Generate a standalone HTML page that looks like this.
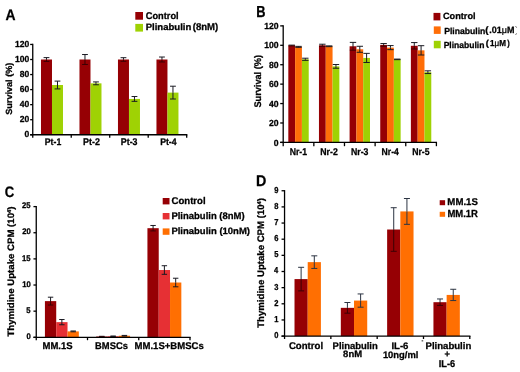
<!DOCTYPE html>
<html><head><meta charset="utf-8"><style>html,body{margin:0;padding:0;background:#fff;width:520px;height:372px;overflow:hidden}svg{display:block;font-family:"Liberation Sans",sans-serif;text-rendering:geometricPrecision;filter:blur(0.35px)}text{stroke:#000;stroke-width:0.28px;stroke-linejoin:round}</style></head><body>
<svg width="520" height="372" viewBox="0 0 520 372" font-family="Liberation Sans, sans-serif">
<rect width="520" height="372" fill="#fff"/>
<rect x="40.99" y="59.5" width="11" height="75.25" fill="#960004"/>
<rect x="51.99" y="85.01" width="11" height="49.74" fill="#9fd204"/>
<line x1="46.49" y1="57.62" x2="46.49" y2="59.5" stroke="#1a1a22" stroke-width="1"/>
<line x1="46.49" y1="59.5" x2="46.49" y2="61.38" stroke="#3c0004" stroke-width="1"/>
<line x1="43.59" y1="57.62" x2="49.39" y2="57.62" stroke="#1a1a22" stroke-width="1"/>
<line x1="43.59" y1="61.38" x2="49.39" y2="61.38" stroke="#3c0004" stroke-width="1"/>
<line x1="57.49" y1="81.1" x2="57.49" y2="85.01" stroke="#1a1a22" stroke-width="1"/>
<line x1="57.49" y1="85.01" x2="57.49" y2="88.92" stroke="#1a1a22" stroke-width="1"/>
<line x1="54.59" y1="81.1" x2="60.39" y2="81.1" stroke="#1a1a22" stroke-width="1"/>
<line x1="54.59" y1="88.92" x2="60.39" y2="88.92" stroke="#1a1a22" stroke-width="1"/>
<rect x="79.48" y="59.5" width="11" height="75.25" fill="#960004"/>
<rect x="90.48" y="83.35" width="11" height="51.4" fill="#9fd204"/>
<line x1="84.98" y1="54.53" x2="84.98" y2="59.5" stroke="#1a1a22" stroke-width="1"/>
<line x1="84.98" y1="59.5" x2="84.98" y2="64.47" stroke="#3c0004" stroke-width="1"/>
<line x1="82.08" y1="54.53" x2="87.88" y2="54.53" stroke="#1a1a22" stroke-width="1"/>
<line x1="82.08" y1="64.47" x2="87.88" y2="64.47" stroke="#3c0004" stroke-width="1"/>
<line x1="95.98" y1="81.92" x2="95.98" y2="83.35" stroke="#1a1a22" stroke-width="1"/>
<line x1="95.98" y1="83.35" x2="95.98" y2="84.78" stroke="#1a1a22" stroke-width="1"/>
<line x1="93.08" y1="81.92" x2="98.88" y2="81.92" stroke="#1a1a22" stroke-width="1"/>
<line x1="93.08" y1="84.78" x2="98.88" y2="84.78" stroke="#1a1a22" stroke-width="1"/>
<rect x="117.97" y="59.5" width="11" height="75.25" fill="#960004"/>
<rect x="128.97" y="98.93" width="11" height="35.82" fill="#9fd204"/>
<line x1="123.47" y1="57.69" x2="123.47" y2="59.5" stroke="#1a1a22" stroke-width="1"/>
<line x1="123.47" y1="59.5" x2="123.47" y2="61.31" stroke="#3c0004" stroke-width="1"/>
<line x1="120.57" y1="57.69" x2="126.37" y2="57.69" stroke="#1a1a22" stroke-width="1"/>
<line x1="120.57" y1="61.31" x2="126.37" y2="61.31" stroke="#3c0004" stroke-width="1"/>
<line x1="134.47" y1="96.52" x2="134.47" y2="98.93" stroke="#1a1a22" stroke-width="1"/>
<line x1="134.47" y1="98.93" x2="134.47" y2="101.34" stroke="#1a1a22" stroke-width="1"/>
<line x1="131.57" y1="96.52" x2="137.37" y2="96.52" stroke="#1a1a22" stroke-width="1"/>
<line x1="131.57" y1="101.34" x2="137.37" y2="101.34" stroke="#1a1a22" stroke-width="1"/>
<rect x="156.46" y="59.5" width="11" height="75.25" fill="#960004"/>
<rect x="167.46" y="92.61" width="11" height="42.14" fill="#9fd204"/>
<line x1="161.96" y1="57.02" x2="161.96" y2="59.5" stroke="#1a1a22" stroke-width="1"/>
<line x1="161.96" y1="59.5" x2="161.96" y2="61.98" stroke="#3c0004" stroke-width="1"/>
<line x1="159.06" y1="57.02" x2="164.86" y2="57.02" stroke="#1a1a22" stroke-width="1"/>
<line x1="159.06" y1="61.98" x2="164.86" y2="61.98" stroke="#3c0004" stroke-width="1"/>
<line x1="172.96" y1="86.21" x2="172.96" y2="92.61" stroke="#1a1a22" stroke-width="1"/>
<line x1="172.96" y1="92.61" x2="172.96" y2="99.01" stroke="#1a1a22" stroke-width="1"/>
<line x1="170.06" y1="86.21" x2="175.86" y2="86.21" stroke="#1a1a22" stroke-width="1"/>
<line x1="170.06" y1="99.01" x2="175.86" y2="99.01" stroke="#1a1a22" stroke-width="1"/>
<line x1="32.75" y1="43.8" x2="32.75" y2="137.65" stroke="#000" stroke-width="1.3"/>
<line x1="30.15" y1="134.75" x2="187.35" y2="134.75" stroke="#000" stroke-width="1.3"/>
<line x1="30.15" y1="134.75" x2="32.75" y2="134.75" stroke="#000" stroke-width="1.3"/>
<text transform="translate(24.5 137.43) scale(0.970 1)" font-size="8.8" font-weight="bold">0</text>
<line x1="30.15" y1="119.7" x2="32.75" y2="119.7" stroke="#000" stroke-width="1.3"/>
<text transform="translate(19.77 122.38) scale(0.970 1)" font-size="8.8" font-weight="bold">20</text>
<line x1="30.15" y1="104.65" x2="32.75" y2="104.65" stroke="#000" stroke-width="1.3"/>
<text transform="translate(19.77 107.33) scale(0.970 1)" font-size="8.8" font-weight="bold">40</text>
<line x1="30.15" y1="89.6" x2="32.75" y2="89.6" stroke="#000" stroke-width="1.3"/>
<text transform="translate(19.77 92.28) scale(0.970 1)" font-size="8.8" font-weight="bold">60</text>
<line x1="30.15" y1="74.55" x2="32.75" y2="74.55" stroke="#000" stroke-width="1.3"/>
<text transform="translate(19.77 77.23) scale(0.970 1)" font-size="8.8" font-weight="bold">80</text>
<line x1="30.15" y1="59.5" x2="32.75" y2="59.5" stroke="#000" stroke-width="1.3"/>
<text transform="translate(15.03 62.18) scale(0.970 1)" font-size="8.8" font-weight="bold">100</text>
<line x1="30.15" y1="44.45" x2="32.75" y2="44.45" stroke="#000" stroke-width="1.3"/>
<text transform="translate(15.03 47.13) scale(0.970 1)" font-size="8.8" font-weight="bold">120</text>
<line x1="71.24" y1="134.75" x2="71.24" y2="137.65" stroke="#000" stroke-width="1.3"/>
<line x1="109.72" y1="134.75" x2="109.72" y2="137.65" stroke="#000" stroke-width="1.3"/>
<line x1="148.21" y1="134.75" x2="148.21" y2="137.65" stroke="#000" stroke-width="1.3"/>
<line x1="186.7" y1="134.75" x2="186.7" y2="137.65" stroke="#000" stroke-width="1.3"/>
<text transform="translate(5.45 19.7) scale(0.9122 1)" font-size="15.22" font-weight="bold">A</text>
<text transform="translate(44.84 145) scale(0.9061 1)" font-size="9.57" font-weight="bold">Pt-1</text>
<text transform="translate(83.12 145) scale(0.9227 1)" font-size="9.71" font-weight="bold">Pt-2</text>
<text transform="translate(120.83 145) scale(0.9086 1)" font-size="9.71" font-weight="bold">Pt-3</text>
<text transform="translate(160.13 145) scale(0.9065 1)" font-size="9.64" font-weight="bold">Pt-4</text>
<text transform="translate(11.9 114.77) rotate(-90) scale(1.0212 1)" font-size="8.92" font-weight="bold">Survival (%)</text>
<rect x="135.3" y="12" width="7.7" height="7.7" fill="#960004"/>
<rect x="135.3" y="23.9" width="7.7" height="7.7" fill="#9fd204"/>
<text transform="translate(145.73 18.6) scale(0.9574 1)" font-size="9.66" font-weight="bold">Control</text>
<text transform="translate(145.68 29.8) scale(1.0413 1)" font-size="9.19" font-weight="bold">Plinabulin</text>
<text transform="translate(192.72 30.23) scale(0.9728 1)" font-size="9.84" font-weight="bold">(8nM)</text>
<rect x="288.32" y="45.49" width="6.8" height="96.91" fill="#960004"/>
<rect x="295.12" y="46.85" width="6.8" height="95.55" fill="#ff6e08"/>
<rect x="301.92" y="59.28" width="6.8" height="83.12" fill="#9fd204"/>
<line x1="291.72" y1="45.11" x2="291.72" y2="45.49" stroke="#1a1a22" stroke-width="1"/>
<line x1="291.72" y1="45.49" x2="291.72" y2="45.88" stroke="#3c0004" stroke-width="1"/>
<line x1="288.52" y1="45.11" x2="294.92" y2="45.11" stroke="#1a1a22" stroke-width="1"/>
<line x1="288.52" y1="45.88" x2="294.92" y2="45.88" stroke="#3c0004" stroke-width="1"/>
<line x1="298.52" y1="46.37" x2="298.52" y2="46.85" stroke="#1a1a22" stroke-width="1"/>
<line x1="298.52" y1="46.85" x2="298.52" y2="47.34" stroke="#1a1a22" stroke-width="1"/>
<line x1="295.32" y1="46.37" x2="301.72" y2="46.37" stroke="#1a1a22" stroke-width="1"/>
<line x1="295.32" y1="47.34" x2="301.72" y2="47.34" stroke="#1a1a22" stroke-width="1"/>
<line x1="305.32" y1="58.21" x2="305.32" y2="59.28" stroke="#1a1a22" stroke-width="1"/>
<line x1="305.32" y1="59.28" x2="305.32" y2="60.35" stroke="#1a1a22" stroke-width="1"/>
<line x1="302.12" y1="58.21" x2="308.52" y2="58.21" stroke="#1a1a22" stroke-width="1"/>
<line x1="302.12" y1="60.35" x2="308.52" y2="60.35" stroke="#1a1a22" stroke-width="1"/>
<rect x="318.96" y="45.3" width="6.8" height="97.1" fill="#960004"/>
<rect x="325.76" y="46.27" width="6.8" height="96.13" fill="#ff6e08"/>
<rect x="332.56" y="66.37" width="6.8" height="76.03" fill="#9fd204"/>
<line x1="322.36" y1="44.23" x2="322.36" y2="45.3" stroke="#1a1a22" stroke-width="1"/>
<line x1="322.36" y1="45.3" x2="322.36" y2="46.37" stroke="#3c0004" stroke-width="1"/>
<line x1="319.16" y1="44.23" x2="325.56" y2="44.23" stroke="#1a1a22" stroke-width="1"/>
<line x1="319.16" y1="46.37" x2="325.56" y2="46.37" stroke="#3c0004" stroke-width="1"/>
<line x1="329.16" y1="45.88" x2="329.16" y2="46.27" stroke="#1a1a22" stroke-width="1"/>
<line x1="329.16" y1="46.27" x2="329.16" y2="46.66" stroke="#1a1a22" stroke-width="1"/>
<line x1="325.96" y1="45.88" x2="332.36" y2="45.88" stroke="#1a1a22" stroke-width="1"/>
<line x1="325.96" y1="46.66" x2="332.36" y2="46.66" stroke="#1a1a22" stroke-width="1"/>
<line x1="335.96" y1="64.53" x2="335.96" y2="66.37" stroke="#1a1a22" stroke-width="1"/>
<line x1="335.96" y1="66.37" x2="335.96" y2="68.22" stroke="#1a1a22" stroke-width="1"/>
<line x1="332.76" y1="64.53" x2="339.16" y2="64.53" stroke="#1a1a22" stroke-width="1"/>
<line x1="332.76" y1="68.22" x2="339.16" y2="68.22" stroke="#1a1a22" stroke-width="1"/>
<rect x="349.6" y="46.27" width="6.8" height="96.13" fill="#960004"/>
<rect x="356.4" y="49.28" width="6.8" height="93.12" fill="#ff6e08"/>
<rect x="363.2" y="57.92" width="6.8" height="84.48" fill="#9fd204"/>
<line x1="353" y1="42.39" x2="353" y2="46.27" stroke="#1a1a22" stroke-width="1"/>
<line x1="353" y1="46.27" x2="353" y2="50.16" stroke="#3c0004" stroke-width="1"/>
<line x1="349.8" y1="42.39" x2="356.2" y2="42.39" stroke="#1a1a22" stroke-width="1"/>
<line x1="349.8" y1="50.16" x2="356.2" y2="50.16" stroke="#3c0004" stroke-width="1"/>
<line x1="359.8" y1="46.27" x2="359.8" y2="49.28" stroke="#1a1a22" stroke-width="1"/>
<line x1="359.8" y1="49.28" x2="359.8" y2="52.29" stroke="#1a1a22" stroke-width="1"/>
<line x1="356.6" y1="46.27" x2="363" y2="46.27" stroke="#1a1a22" stroke-width="1"/>
<line x1="356.6" y1="52.29" x2="363" y2="52.29" stroke="#1a1a22" stroke-width="1"/>
<line x1="366.6" y1="53.36" x2="366.6" y2="57.92" stroke="#1a1a22" stroke-width="1"/>
<line x1="366.6" y1="57.92" x2="366.6" y2="62.49" stroke="#1a1a22" stroke-width="1"/>
<line x1="363.4" y1="53.36" x2="369.8" y2="53.36" stroke="#1a1a22" stroke-width="1"/>
<line x1="363.4" y1="62.49" x2="369.8" y2="62.49" stroke="#1a1a22" stroke-width="1"/>
<rect x="380.24" y="44.91" width="6.8" height="97.49" fill="#960004"/>
<rect x="387.04" y="47.63" width="6.8" height="94.77" fill="#ff6e08"/>
<rect x="393.84" y="59.38" width="6.8" height="83.02" fill="#9fd204"/>
<line x1="383.64" y1="43.55" x2="383.64" y2="44.91" stroke="#1a1a22" stroke-width="1"/>
<line x1="383.64" y1="44.91" x2="383.64" y2="46.27" stroke="#3c0004" stroke-width="1"/>
<line x1="380.44" y1="43.55" x2="386.84" y2="43.55" stroke="#1a1a22" stroke-width="1"/>
<line x1="380.44" y1="46.27" x2="386.84" y2="46.27" stroke="#3c0004" stroke-width="1"/>
<line x1="390.44" y1="45.59" x2="390.44" y2="47.63" stroke="#1a1a22" stroke-width="1"/>
<line x1="390.44" y1="47.63" x2="390.44" y2="49.67" stroke="#1a1a22" stroke-width="1"/>
<line x1="387.24" y1="45.59" x2="393.64" y2="45.59" stroke="#1a1a22" stroke-width="1"/>
<line x1="387.24" y1="49.67" x2="393.64" y2="49.67" stroke="#1a1a22" stroke-width="1"/>
<line x1="397.24" y1="59.09" x2="397.24" y2="59.38" stroke="#1a1a22" stroke-width="1"/>
<line x1="397.24" y1="59.38" x2="397.24" y2="59.67" stroke="#1a1a22" stroke-width="1"/>
<line x1="394.04" y1="59.09" x2="400.44" y2="59.09" stroke="#1a1a22" stroke-width="1"/>
<line x1="394.04" y1="59.67" x2="400.44" y2="59.67" stroke="#1a1a22" stroke-width="1"/>
<rect x="410.88" y="45.79" width="6.8" height="96.61" fill="#960004"/>
<rect x="417.68" y="50.35" width="6.8" height="92.05" fill="#ff6e08"/>
<rect x="424.48" y="72.2" width="6.8" height="70.2" fill="#9fd204"/>
<line x1="414.28" y1="42.58" x2="414.28" y2="45.79" stroke="#1a1a22" stroke-width="1"/>
<line x1="414.28" y1="45.79" x2="414.28" y2="48.99" stroke="#3c0004" stroke-width="1"/>
<line x1="411.08" y1="42.58" x2="417.48" y2="42.58" stroke="#1a1a22" stroke-width="1"/>
<line x1="411.08" y1="48.99" x2="417.48" y2="48.99" stroke="#3c0004" stroke-width="1"/>
<line x1="421.08" y1="45.69" x2="421.08" y2="50.35" stroke="#1a1a22" stroke-width="1"/>
<line x1="421.08" y1="50.35" x2="421.08" y2="55.01" stroke="#1a1a22" stroke-width="1"/>
<line x1="417.88" y1="45.69" x2="424.28" y2="45.69" stroke="#1a1a22" stroke-width="1"/>
<line x1="417.88" y1="55.01" x2="424.28" y2="55.01" stroke="#1a1a22" stroke-width="1"/>
<line x1="427.88" y1="70.84" x2="427.88" y2="72.2" stroke="#1a1a22" stroke-width="1"/>
<line x1="427.88" y1="72.2" x2="427.88" y2="73.56" stroke="#1a1a22" stroke-width="1"/>
<line x1="424.68" y1="70.84" x2="431.08" y2="70.84" stroke="#1a1a22" stroke-width="1"/>
<line x1="424.68" y1="73.56" x2="431.08" y2="73.56" stroke="#1a1a22" stroke-width="1"/>
<line x1="283.2" y1="25.23" x2="283.2" y2="146.2" stroke="#000" stroke-width="1.3"/>
<line x1="280.2" y1="142.4" x2="437.05" y2="142.4" stroke="#000" stroke-width="1.3"/>
<line x1="280.2" y1="142.4" x2="283.2" y2="142.4" stroke="#000" stroke-width="1.3"/>
<text transform="translate(273.85 145.52) scale(0.970 1)" font-size="8.9" font-weight="bold">0</text>
<line x1="280.2" y1="122.98" x2="283.2" y2="122.98" stroke="#000" stroke-width="1.3"/>
<text transform="translate(269.06 126.09) scale(0.970 1)" font-size="8.9" font-weight="bold">20</text>
<line x1="280.2" y1="103.56" x2="283.2" y2="103.56" stroke="#000" stroke-width="1.3"/>
<text transform="translate(269.06 106.67) scale(0.970 1)" font-size="8.9" font-weight="bold">40</text>
<line x1="280.2" y1="84.14" x2="283.2" y2="84.14" stroke="#000" stroke-width="1.3"/>
<text transform="translate(269.06 87.26) scale(0.970 1)" font-size="8.9" font-weight="bold">60</text>
<line x1="280.2" y1="64.72" x2="283.2" y2="64.72" stroke="#000" stroke-width="1.3"/>
<text transform="translate(269.06 67.84) scale(0.970 1)" font-size="8.9" font-weight="bold">80</text>
<line x1="280.2" y1="45.3" x2="283.2" y2="45.3" stroke="#000" stroke-width="1.3"/>
<text transform="translate(264.27 48.42) scale(0.970 1)" font-size="8.9" font-weight="bold">100</text>
<line x1="280.2" y1="25.88" x2="283.2" y2="25.88" stroke="#000" stroke-width="1.3"/>
<text transform="translate(264.27 29) scale(0.970 1)" font-size="8.9" font-weight="bold">120</text>
<line x1="313.84" y1="142.4" x2="313.84" y2="146.2" stroke="#000" stroke-width="1.3"/>
<line x1="344.48" y1="142.4" x2="344.48" y2="146.2" stroke="#000" stroke-width="1.3"/>
<line x1="375.12" y1="142.4" x2="375.12" y2="146.2" stroke="#000" stroke-width="1.3"/>
<line x1="405.76" y1="142.4" x2="405.76" y2="146.2" stroke="#000" stroke-width="1.3"/>
<line x1="436.4" y1="142.4" x2="436.4" y2="146.2" stroke="#000" stroke-width="1.3"/>
<text transform="translate(256.27 17.4) scale(0.8021 1)" font-size="15.94" font-weight="bold">B</text>
<text transform="translate(289.66 154.7) scale(0.8819 1)" font-size="9.86" font-weight="bold">Nr-1</text>
<text transform="translate(320.29 154.7) scale(0.9018 1)" font-size="9.71" font-weight="bold">Nr-2</text>
<text transform="translate(350.93 154.7) scale(0.8994 1)" font-size="9.71" font-weight="bold">Nr-3</text>
<text transform="translate(381.58 154.7) scale(0.8728 1)" font-size="9.86" font-weight="bold">Nr-4</text>
<text transform="translate(412.22 154.7) scale(0.8819 1)" font-size="9.86" font-weight="bold">Nr-5</text>
<text transform="translate(261.1 107.58) rotate(-90) scale(0.9575 1)" font-size="9.6" font-weight="bold">Survival (%)</text>
<rect x="433.5" y="12.9" width="6.9" height="7.5" fill="#960004"/>
<rect x="433.8" y="26.4" width="6.9" height="7.5" fill="#ff6e08"/>
<rect x="433.8" y="40.8" width="6.9" height="7.5" fill="#9fd204"/>
<text transform="translate(442.93 18.8) scale(1.0091 1)" font-size="9.1" font-weight="bold">Control</text>
<text transform="translate(444.14 33.6) scale(0.9847 1)" font-size="8.78" font-weight="bold">Plinabulin</text>
<text transform="translate(443.65 47.8) scale(0.9725 1)" font-size="8.78" font-weight="bold">Plinabulin</text>
<text transform="translate(485.32 32.67) scale(1.0484 1)" font-size="9.2" font-weight="bold">(</text>
<text transform="translate(489.37 32.9) scale(0.9741 1)" font-size="9.22" font-weight="bold">.01<tspan font-weight="normal">μ</tspan>M</text>
<path d="M515.6 26.2 L516.6 27.6 M516.5 33.4 L515.7 34.8" stroke="#444" stroke-width="0.9" fill="none"/>
<text transform="translate(485.74 45.78) scale(1.0719 1)" font-size="8.66" font-weight="bold">(</text>
<text transform="translate(489.97 46) scale(0.9387 1)" font-size="8.66" font-weight="bold">1<tspan font-weight="normal">μ</tspan>M</text>
<text transform="translate(507.16 45.78) scale(0.8657 1)" font-size="8.66" font-weight="bold">)</text>
<rect x="44.92" y="301.12" width="11.3" height="36.18" fill="#960004"/>
<rect x="56.22" y="322.14" width="11.3" height="15.16" fill="#e63034"/>
<rect x="67.53" y="331.39" width="11.3" height="5.91" fill="#ff6f02"/>
<line x1="50.57" y1="297.2" x2="50.57" y2="301.12" stroke="#1a1a22" stroke-width="1"/>
<line x1="50.57" y1="301.12" x2="50.57" y2="305.04" stroke="#3c0004" stroke-width="1"/>
<line x1="47.87" y1="297.2" x2="53.27" y2="297.2" stroke="#1a1a22" stroke-width="1"/>
<line x1="47.87" y1="305.04" x2="53.27" y2="305.04" stroke="#3c0004" stroke-width="1"/>
<line x1="61.87" y1="319.52" x2="61.87" y2="322.14" stroke="#1a1a22" stroke-width="1"/>
<line x1="61.87" y1="322.14" x2="61.87" y2="324.75" stroke="#1a1a22" stroke-width="1"/>
<line x1="59.17" y1="319.52" x2="64.57" y2="319.52" stroke="#1a1a22" stroke-width="1"/>
<line x1="59.17" y1="324.75" x2="64.57" y2="324.75" stroke="#1a1a22" stroke-width="1"/>
<line x1="73.18" y1="330.97" x2="73.18" y2="331.39" stroke="#1a1a22" stroke-width="1"/>
<line x1="73.18" y1="331.39" x2="73.18" y2="331.81" stroke="#1a1a22" stroke-width="1"/>
<line x1="70.48" y1="330.97" x2="75.88" y2="330.97" stroke="#1a1a22" stroke-width="1"/>
<line x1="70.48" y1="331.81" x2="75.88" y2="331.81" stroke="#1a1a22" stroke-width="1"/>
<rect x="96.17" y="336.52" width="11.3" height="0.78" fill="#960004"/>
<rect x="107.47" y="336.25" width="11.3" height="1.05" fill="#e63034"/>
<rect x="118.78" y="335.73" width="11.3" height="1.57" fill="#ff6f02"/>
<line x1="101.83" y1="336.31" x2="101.83" y2="336.52" stroke="#1a1a22" stroke-width="1"/>
<line x1="101.83" y1="336.52" x2="101.83" y2="336.72" stroke="#3c0004" stroke-width="1"/>
<line x1="99.12" y1="336.31" x2="104.53" y2="336.31" stroke="#1a1a22" stroke-width="1"/>
<line x1="99.12" y1="336.72" x2="104.53" y2="336.72" stroke="#3c0004" stroke-width="1"/>
<line x1="113.12" y1="335.99" x2="113.12" y2="336.25" stroke="#1a1a22" stroke-width="1"/>
<line x1="113.12" y1="336.25" x2="113.12" y2="336.52" stroke="#1a1a22" stroke-width="1"/>
<line x1="110.42" y1="335.99" x2="115.83" y2="335.99" stroke="#1a1a22" stroke-width="1"/>
<line x1="110.42" y1="336.52" x2="115.83" y2="336.52" stroke="#1a1a22" stroke-width="1"/>
<line x1="124.43" y1="335.42" x2="124.43" y2="335.73" stroke="#1a1a22" stroke-width="1"/>
<line x1="124.43" y1="335.73" x2="124.43" y2="336.05" stroke="#1a1a22" stroke-width="1"/>
<line x1="121.73" y1="335.42" x2="127.13" y2="335.42" stroke="#1a1a22" stroke-width="1"/>
<line x1="121.73" y1="336.05" x2="127.13" y2="336.05" stroke="#1a1a22" stroke-width="1"/>
<rect x="147.43" y="228.19" width="11.3" height="109.11" fill="#960004"/>
<rect x="158.73" y="270.02" width="11.3" height="67.28" fill="#e63034"/>
<rect x="170.03" y="282.51" width="11.3" height="54.79" fill="#ff6f02"/>
<line x1="153.08" y1="225.47" x2="153.08" y2="228.19" stroke="#1a1a22" stroke-width="1"/>
<line x1="153.08" y1="228.19" x2="153.08" y2="230.91" stroke="#3c0004" stroke-width="1"/>
<line x1="150.38" y1="225.47" x2="155.78" y2="225.47" stroke="#1a1a22" stroke-width="1"/>
<line x1="150.38" y1="230.91" x2="155.78" y2="230.91" stroke="#3c0004" stroke-width="1"/>
<line x1="164.38" y1="265.73" x2="164.38" y2="270.02" stroke="#1a1a22" stroke-width="1"/>
<line x1="164.38" y1="270.02" x2="164.38" y2="274.3" stroke="#1a1a22" stroke-width="1"/>
<line x1="161.68" y1="265.73" x2="167.08" y2="265.73" stroke="#1a1a22" stroke-width="1"/>
<line x1="161.68" y1="274.3" x2="167.08" y2="274.3" stroke="#1a1a22" stroke-width="1"/>
<line x1="175.68" y1="278.22" x2="175.68" y2="282.51" stroke="#1a1a22" stroke-width="1"/>
<line x1="175.68" y1="282.51" x2="175.68" y2="286.8" stroke="#1a1a22" stroke-width="1"/>
<line x1="172.98" y1="278.22" x2="178.38" y2="278.22" stroke="#1a1a22" stroke-width="1"/>
<line x1="172.98" y1="286.8" x2="178.38" y2="286.8" stroke="#1a1a22" stroke-width="1"/>
<line x1="36.25" y1="205.95" x2="36.25" y2="340.2" stroke="#000" stroke-width="1.3"/>
<line x1="33.45" y1="337.3" x2="190.65" y2="337.3" stroke="#000" stroke-width="1.3"/>
<line x1="33.45" y1="337.3" x2="36.25" y2="337.3" stroke="#000" stroke-width="1.3"/>
<text transform="translate(26.43 338.97) scale(0.940 1)" font-size="8.2" font-weight="bold">0</text>
<line x1="33.45" y1="311.16" x2="36.25" y2="311.16" stroke="#000" stroke-width="1.3"/>
<text transform="translate(26.31 312.79) scale(0.940 1)" font-size="8.2" font-weight="bold">5</text>
<line x1="33.45" y1="285.02" x2="36.25" y2="285.02" stroke="#000" stroke-width="1.3"/>
<text transform="translate(22.15 286.69) scale(0.940 1)" font-size="8.2" font-weight="bold">10</text>
<line x1="33.45" y1="258.88" x2="36.25" y2="258.88" stroke="#000" stroke-width="1.3"/>
<text transform="translate(22.04 260.51) scale(0.940 1)" font-size="8.2" font-weight="bold">15</text>
<line x1="33.45" y1="232.74" x2="36.25" y2="232.74" stroke="#000" stroke-width="1.3"/>
<text transform="translate(22.15 234.41) scale(0.940 1)" font-size="8.2" font-weight="bold">20</text>
<line x1="33.45" y1="206.6" x2="36.25" y2="206.6" stroke="#000" stroke-width="1.3"/>
<text transform="translate(22.04 208.27) scale(0.940 1)" font-size="8.2" font-weight="bold">25</text>
<line x1="87.5" y1="337.3" x2="87.5" y2="340.2" stroke="#000" stroke-width="1.3"/>
<line x1="138.75" y1="337.3" x2="138.75" y2="340.2" stroke="#000" stroke-width="1.3"/>
<line x1="190" y1="337.3" x2="190" y2="340.2" stroke="#000" stroke-width="1.3"/>
<text transform="translate(4.77 196.6) scale(0.8671 1)" font-size="15.14" font-weight="bold">C</text>
<text transform="translate(42.48 349) scale(0.9774 1)" font-size="9.71" font-weight="bold">MM.1S</text>
<text transform="translate(95.09 349) scale(0.9642 1)" font-size="9.71" font-weight="bold">BMSCs</text>
<text transform="translate(134.58 349.1) scale(0.9826 1)" font-size="9.71" font-weight="bold">MM.1S+BMSCs</text>
<text transform="translate(14.4 336.6) rotate(-90) scale(1.036 1)" font-size="9.3" font-weight="bold" >Thymidine Uptake CPM (10<tspan font-size="5.6" dy="-3.6">4</tspan><tspan dy="3.6">)</tspan></text>
<rect x="162.7" y="198" width="6.8" height="6.4" fill="#960004"/>
<rect x="162.7" y="213" width="6.8" height="6.4" fill="#e63034"/>
<rect x="162.7" y="228.4" width="6.8" height="6.4" fill="#ff6f02"/>
<text transform="translate(171.62 204.4) scale(0.9766 1)" font-size="9.79" font-weight="bold">Control</text>
<text transform="translate(171.38 219.4) scale(0.9894 1)" font-size="9.6" font-weight="bold">Plinabulin (8nM)</text>
<text transform="translate(171.38 234.3) scale(1.0354 1)" font-size="9.19" font-weight="bold">Plinabulin (10nM)</text>
<rect x="294.51" y="279.09" width="13.2" height="57.01" fill="#960004"/>
<rect x="307.71" y="262.13" width="13.2" height="73.97" fill="#ff6f02"/>
<line x1="301.11" y1="267.3" x2="301.11" y2="279.09" stroke="#2c3442" stroke-width="1"/>
<line x1="301.11" y1="279.09" x2="301.11" y2="290.88" stroke="#3c0004" stroke-width="1"/>
<line x1="298.11" y1="267.3" x2="304.11" y2="267.3" stroke="#2c3442" stroke-width="1"/>
<line x1="298.11" y1="290.88" x2="304.11" y2="290.88" stroke="#3c0004" stroke-width="1"/>
<line x1="314.31" y1="255.83" x2="314.31" y2="262.13" stroke="#2c3442" stroke-width="1"/>
<line x1="314.31" y1="262.13" x2="314.31" y2="268.43" stroke="#2c3442" stroke-width="1"/>
<line x1="311.31" y1="255.83" x2="317.31" y2="255.83" stroke="#2c3442" stroke-width="1"/>
<line x1="311.31" y1="268.43" x2="317.31" y2="268.43" stroke="#2c3442" stroke-width="1"/>
<rect x="340.82" y="307.84" width="13.2" height="28.26" fill="#960004"/>
<rect x="354.02" y="300.57" width="13.2" height="35.53" fill="#ff6f02"/>
<line x1="347.42" y1="302.51" x2="347.42" y2="307.84" stroke="#2c3442" stroke-width="1"/>
<line x1="347.42" y1="307.84" x2="347.42" y2="313.17" stroke="#3c0004" stroke-width="1"/>
<line x1="344.42" y1="302.51" x2="350.42" y2="302.51" stroke="#2c3442" stroke-width="1"/>
<line x1="344.42" y1="313.17" x2="350.42" y2="313.17" stroke="#3c0004" stroke-width="1"/>
<line x1="360.62" y1="293.95" x2="360.62" y2="300.57" stroke="#2c3442" stroke-width="1"/>
<line x1="360.62" y1="300.57" x2="360.62" y2="307.19" stroke="#2c3442" stroke-width="1"/>
<line x1="357.62" y1="293.95" x2="363.62" y2="293.95" stroke="#2c3442" stroke-width="1"/>
<line x1="357.62" y1="307.19" x2="363.62" y2="307.19" stroke="#2c3442" stroke-width="1"/>
<rect x="387.13" y="229.51" width="13.2" height="106.59" fill="#960004"/>
<rect x="400.33" y="211.42" width="13.2" height="124.68" fill="#ff6f02"/>
<line x1="393.73" y1="207.71" x2="393.73" y2="229.51" stroke="#2c3442" stroke-width="1"/>
<line x1="393.73" y1="229.51" x2="393.73" y2="251.31" stroke="#3c0004" stroke-width="1"/>
<line x1="390.73" y1="207.71" x2="396.73" y2="207.71" stroke="#2c3442" stroke-width="1"/>
<line x1="390.73" y1="251.31" x2="396.73" y2="251.31" stroke="#3c0004" stroke-width="1"/>
<line x1="406.93" y1="198.5" x2="406.93" y2="211.42" stroke="#2c3442" stroke-width="1"/>
<line x1="406.93" y1="211.42" x2="406.93" y2="224.34" stroke="#2c3442" stroke-width="1"/>
<line x1="403.93" y1="198.5" x2="409.93" y2="198.5" stroke="#2c3442" stroke-width="1"/>
<line x1="403.93" y1="224.34" x2="409.93" y2="224.34" stroke="#2c3442" stroke-width="1"/>
<rect x="433.44" y="302.19" width="13.2" height="33.92" fill="#960004"/>
<rect x="446.64" y="294.92" width="13.2" height="41.18" fill="#ff6f02"/>
<line x1="440.04" y1="298.96" x2="440.04" y2="302.19" stroke="#2c3442" stroke-width="1"/>
<line x1="440.04" y1="302.19" x2="440.04" y2="305.42" stroke="#3c0004" stroke-width="1"/>
<line x1="437.04" y1="298.96" x2="443.04" y2="298.96" stroke="#2c3442" stroke-width="1"/>
<line x1="437.04" y1="305.42" x2="443.04" y2="305.42" stroke="#3c0004" stroke-width="1"/>
<line x1="453.24" y1="289.27" x2="453.24" y2="294.92" stroke="#2c3442" stroke-width="1"/>
<line x1="453.24" y1="294.92" x2="453.24" y2="300.57" stroke="#2c3442" stroke-width="1"/>
<line x1="450.24" y1="289.27" x2="456.24" y2="289.27" stroke="#2c3442" stroke-width="1"/>
<line x1="450.24" y1="300.57" x2="456.24" y2="300.57" stroke="#2c3442" stroke-width="1"/>
<line x1="284.55" y1="190.1" x2="284.55" y2="339" stroke="#000" stroke-width="1.3"/>
<line x1="281.55" y1="336.1" x2="470.45" y2="336.1" stroke="#000" stroke-width="1.3"/>
<line x1="281.55" y1="336.1" x2="284.55" y2="336.1" stroke="#000" stroke-width="1.3"/>
<text transform="translate(274.3 338.11) scale(0.880 1)" font-size="8.6" font-weight="bold">0</text>
<line x1="281.55" y1="319.95" x2="284.55" y2="319.95" stroke="#000" stroke-width="1.3"/>
<text transform="translate(274.19 321.92) scale(0.880 1)" font-size="8.6" font-weight="bold">1</text>
<line x1="281.55" y1="303.8" x2="284.55" y2="303.8" stroke="#000" stroke-width="1.3"/>
<text transform="translate(274.3 305.81) scale(0.880 1)" font-size="8.6" font-weight="bold">2</text>
<line x1="281.55" y1="287.65" x2="284.55" y2="287.65" stroke="#000" stroke-width="1.3"/>
<text transform="translate(274.26 289.66) scale(0.880 1)" font-size="8.6" font-weight="bold">3</text>
<line x1="281.55" y1="271.5" x2="284.55" y2="271.5" stroke="#000" stroke-width="1.3"/>
<text transform="translate(274.04 273.47) scale(0.880 1)" font-size="8.6" font-weight="bold">4</text>
<line x1="281.55" y1="255.35" x2="284.55" y2="255.35" stroke="#000" stroke-width="1.3"/>
<text transform="translate(274.19 257.32) scale(0.880 1)" font-size="8.6" font-weight="bold">5</text>
<line x1="281.55" y1="239.2" x2="284.55" y2="239.2" stroke="#000" stroke-width="1.3"/>
<text transform="translate(274.26 241.21) scale(0.880 1)" font-size="8.6" font-weight="bold">6</text>
<line x1="281.55" y1="223.05" x2="284.55" y2="223.05" stroke="#000" stroke-width="1.3"/>
<text transform="translate(274.34 225.02) scale(0.880 1)" font-size="8.6" font-weight="bold">7</text>
<line x1="281.55" y1="206.9" x2="284.55" y2="206.9" stroke="#000" stroke-width="1.3"/>
<text transform="translate(274.23 208.91) scale(0.880 1)" font-size="8.6" font-weight="bold">8</text>
<line x1="281.55" y1="190.75" x2="284.55" y2="190.75" stroke="#000" stroke-width="1.3"/>
<text transform="translate(274.26 192.76) scale(0.880 1)" font-size="8.6" font-weight="bold">9</text>
<line x1="330.86" y1="336.1" x2="330.86" y2="339" stroke="#000" stroke-width="1.3"/>
<line x1="377.18" y1="336.1" x2="377.18" y2="339" stroke="#000" stroke-width="1.3"/>
<line x1="423.49" y1="336.1" x2="423.49" y2="339" stroke="#000" stroke-width="1.3"/>
<line x1="469.8" y1="336.1" x2="469.8" y2="339" stroke="#000" stroke-width="1.3"/>
<text transform="translate(256.07 186.3) scale(0.9227 1)" font-size="15.51" font-weight="bold">D</text>
<text transform="translate(288.92 349.3) scale(0.9825 1)" font-size="9.79" font-weight="bold">Control</text>
<text transform="translate(332.58 349.4) scale(0.9942 1)" font-size="9.52" font-weight="bold">Plinabulin</text>
<text transform="translate(343.12 357.4) scale(1.0202 1)" font-size="9.29" font-weight="bold">8nM</text>
<text transform="translate(391.38 349.3) scale(1.0194 1)" font-size="9.43" font-weight="bold">IL-6</text>
<text transform="translate(382.89 357.8) scale(0.9927 1)" font-size="9.47" font-weight="bold">10ng/ml</text>
<text transform="translate(425.48 348.8) scale(1.0078 1)" font-size="9.52" font-weight="bold">Plinabulin</text>
<text transform="translate(444.53 357.2) scale(1.0116 1)" font-size="9.2" font-weight="bold">+</text>
<text transform="translate(438.8 366.7) scale(0.9254 1)" font-size="10" font-weight="bold">IL-6</text>
<rect x="421.6" y="340.3" width="1.6" height="1.1" fill="#333"/>
<text transform="translate(264.4 327.8) rotate(-90) scale(1.012 1)" font-size="9.5" font-weight="bold" >Thymidine Uptake CPM (10<tspan font-size="5.6" dy="-3.6">4</tspan><tspan dy="3.6">)</tspan></text>
<rect x="439.7" y="200.2" width="5.4" height="5" fill="#960004"/>
<rect x="439.7" y="211.8" width="5.4" height="5" fill="#ff6f02"/>
<text transform="translate(447.37 205.3) scale(0.9764 1)" font-size="9.86" font-weight="bold">MM.1S</text>
<text transform="translate(447.38 217.3) scale(0.9238 1)" font-size="10.29" font-weight="bold">MM.1R</text>
</svg>
</body></html>
